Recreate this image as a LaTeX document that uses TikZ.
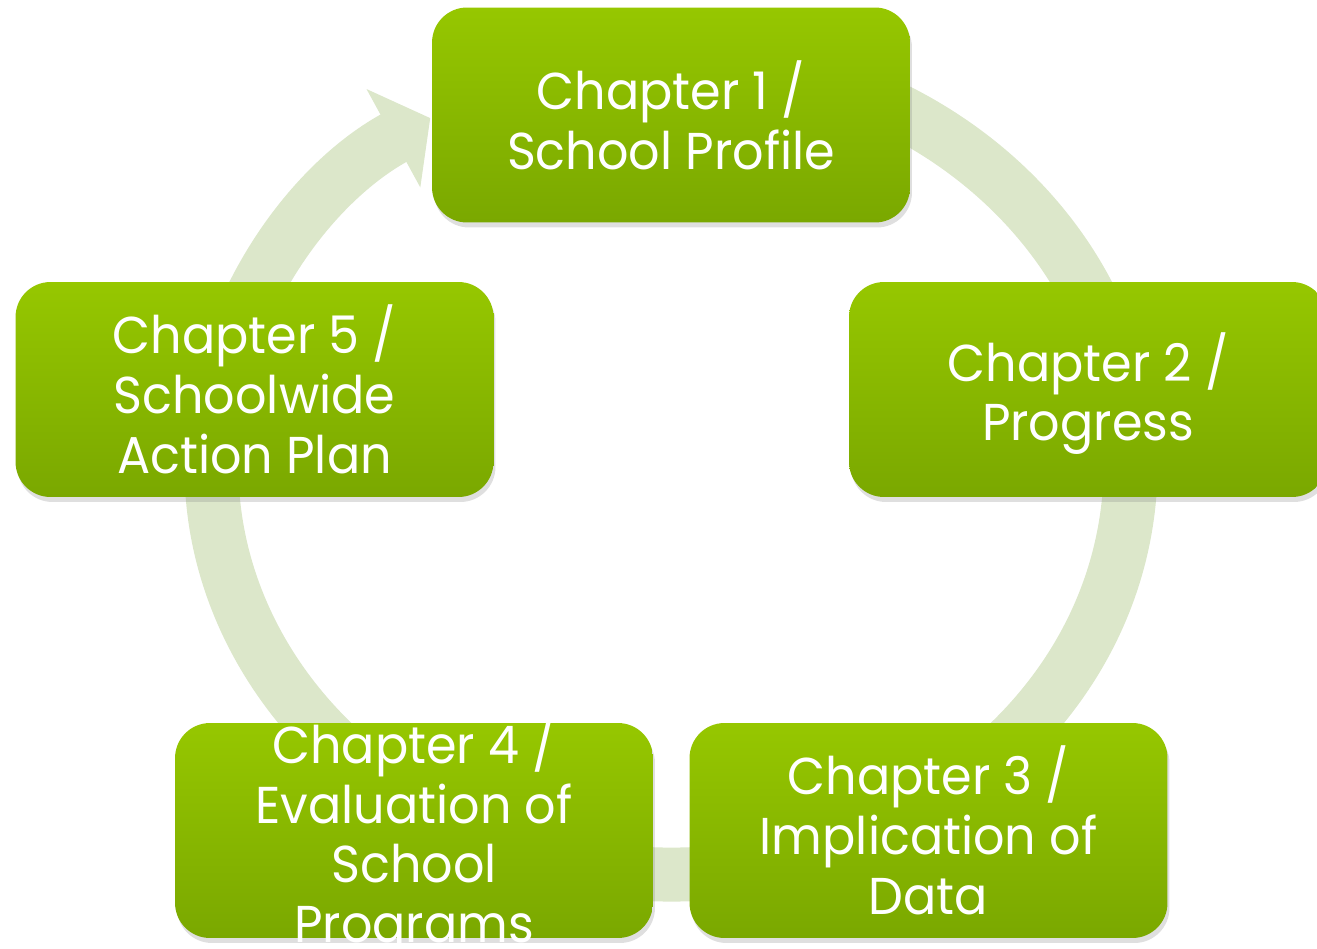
\documentclass[tikz,border=0pt]{standalone}
\usepackage{fontspec}
\setmainfont{Poppins}[FakeStretch=0.95]
\usetikzlibrary{arrows.meta,shadows}
\definecolor{chaplight}{RGB}{150,199,0}
\definecolor{chapdark}{RGB}{122,168,0}
\definecolor{ringgreen}{RGB}{220,231,202}

\begin{document}
\begin{tikzpicture}[x=0.02cm,y=0.02cm,
	  chapter/.style={rounded corners=0.7cm,minimum width=9.56cm,minimum height=4.3cm,
	    inner sep=0pt,top color=chaplight,bottom color=chapdark,
	    drop shadow={shadow xshift=0.04cm,shadow yshift=-0.1cm,opacity=0.25}},
	  chaptext/.style={text=white,align=center,font=\fontsize{29.5}{34}\selectfont},
	  ring/.style={draw=ringgreen,line width=1.08cm,
	    -{Triangle[length=0.84cm,width=2.2cm]}}]

	  \path[use as bounding box,clip] (0,0) rectangle (1317,948);

	  \coordinate (ringc) at (671,482);
	  \draw[ring] ([shift={(80:459.5 and 408.5)}]ringc)
	    arc [start angle=80,end angle=-238.4,x radius=459.5,y radius=408.5];

	  \node[chapter,label={[chaptext]center:Chapter 1 /\\School Profile}] (ch1) at (671,833) {};
	  \node[chapter,label={[chaptext,yshift=-0.08cm]center:Chapter 2 /\\Progress}] (ch2) at (1088,558.5) {};
	  \node[chapter,label={[chaptext]center:Chapter 3 /\\Implication of\\Data}] (ch3) at (928.5,117.5) {};
	  \node[chapter,label={[chaptext,yshift=-0.1cm]center:Chapter 4 /\\Evaluation of\\School\\Programs}] (ch4) at (414,117.5) {};
	  \node[chapter,label={[chaptext]center:Chapter 5 /\\Schoolwide\\Action Plan}] (ch5) at (254.5,558.5) {};
	\end{tikzpicture}
\end{document}
